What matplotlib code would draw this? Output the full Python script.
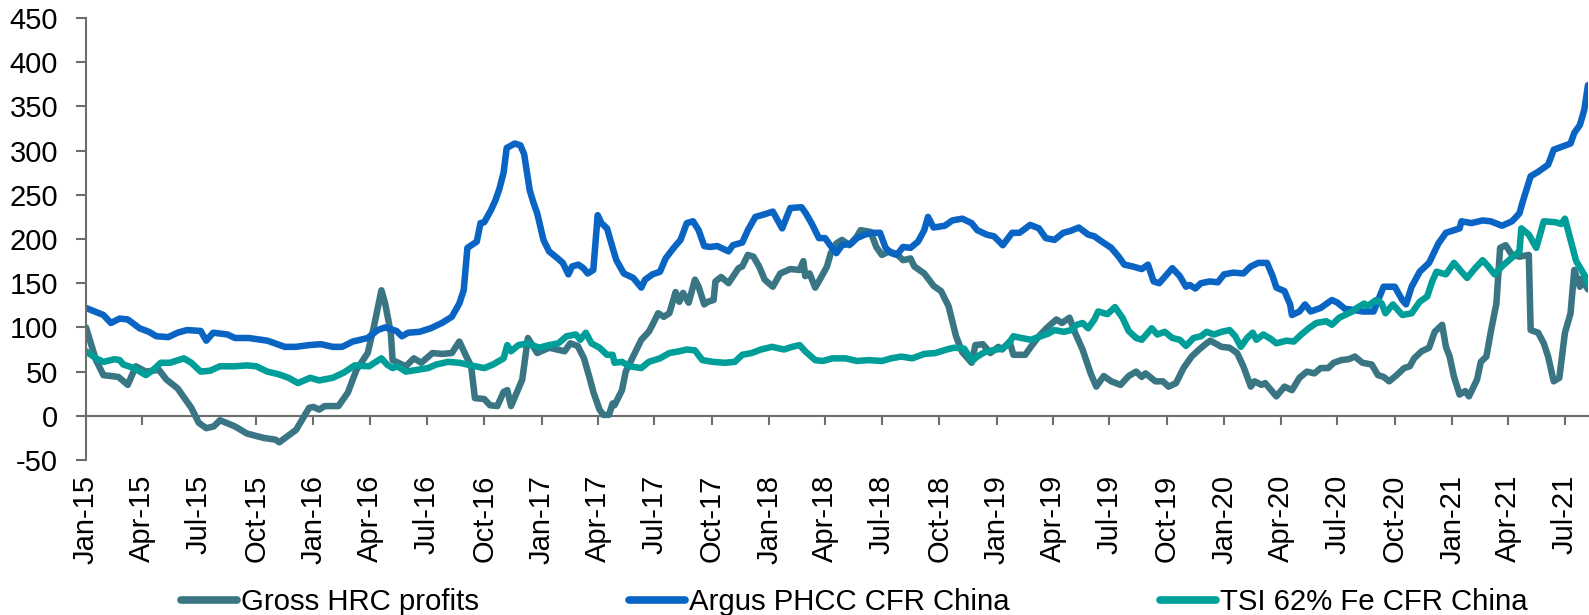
import matplotlib
matplotlib.use("Agg")
import matplotlib.pyplot as plt
import matplotlib.dates as mdates
import pandas as pd

plt.rcParams['font.family'] = ['Liberation Sans', 'DejaVu Sans']
plt.rcParams['axes.unicode_minus'] = False

# ---------------- data ----------------
hrc_dates = [
    "2015-01-01", "2015-01-17", "2015-01-29", "2015-02-22", "2015-03-09", "2015-03-22", "2015-04-07", "2015-04-28",
    "2015-05-10", "2015-05-28", "2015-06-19", "2015-07-01", "2015-07-13", "2015-07-25", "2015-08-04", "2015-08-28",
    "2015-09-16", "2015-10-13", "2015-11-01", "2015-11-07", "2015-12-04", "2015-12-25", "2016-01-01", "2016-01-10",
    "2016-01-19", "2016-02-10", "2016-02-25", "2016-03-10", "2016-03-28", "2016-04-07", "2016-04-19", "2016-04-25",
    "2016-05-04", "2016-05-07", "2016-05-16", "2016-05-28", "2016-06-10", "2016-06-22", "2016-07-10", "2016-07-25",
    "2016-08-10", "2016-08-22", "2016-09-01", "2016-09-10", "2016-09-16", "2016-10-01", "2016-10-10", "2016-10-22",
    "2016-11-01", "2016-11-07", "2016-11-13", "2016-12-01", "2016-12-10", "2016-12-25", "2017-01-13", "2017-02-07",
    "2017-02-16", "2017-02-28", "2017-03-10", "2017-03-19", "2017-03-25", "2017-04-04", "2017-04-10", "2017-04-19",
    "2017-04-25", "2017-04-28", "2017-05-10", "2017-05-16", "2017-05-25", "2017-06-10", "2017-06-22", "2017-06-28",
    "2017-07-07", "2017-07-16", "2017-07-25", "2017-08-04", "2017-08-10", "2017-08-16", "2017-08-25", "2017-09-04",
    "2017-09-10", "2017-09-19", "2017-09-25", "2017-10-04", "2017-10-07", "2017-10-16", "2017-10-28", "2017-11-13",
    "2017-11-19", "2017-11-28", "2017-12-07", "2017-12-16", "2017-12-25", "2018-01-07", "2018-01-19", "2018-02-04",
    "2018-02-19", "2018-02-25", "2018-02-28", "2018-03-07", "2018-03-16", "2018-03-25", "2018-04-04", "2018-04-10",
    "2018-04-19", "2018-04-28", "2018-05-10", "2018-05-22", "2018-05-28", "2018-06-13", "2018-06-22", "2018-07-01",
    "2018-07-13", "2018-07-25", "2018-08-04", "2018-08-16", "2018-08-22", "2018-09-07", "2018-09-22", "2018-10-04",
    "2018-10-16", "2018-10-28", "2018-11-07", "2018-11-22", "2018-11-28", "2018-12-10", "2018-12-22", "2019-01-04",
    "2019-01-10", "2019-01-22", "2019-01-28", "2019-02-16", "2019-02-25", "2019-03-10", "2019-03-22", "2019-04-07",
    "2019-04-16", "2019-04-28", "2019-05-07", "2019-05-19", "2019-06-01", "2019-06-10", "2019-06-22", "2019-07-04",
    "2019-07-19", "2019-08-01", "2019-08-13", "2019-08-22", "2019-08-28", "2019-09-13", "2019-09-25", "2019-10-04",
    "2019-10-16", "2019-10-28", "2019-11-10", "2019-11-22", "2019-12-04", "2019-12-10", "2019-12-28", "2020-01-10",
    "2020-01-22", "2020-02-01", "2020-02-13", "2020-02-19", "2020-03-01", "2020-03-07", "2020-03-25", "2020-04-07",
    "2020-04-19", "2020-05-01", "2020-05-13", "2020-05-25", "2020-06-04", "2020-06-16", "2020-06-25", "2020-07-07",
    "2020-07-19", "2020-07-29", "2020-08-10", "2020-08-25", "2020-09-04", "2020-09-13", "2020-09-22", "2020-10-04",
    "2020-10-16", "2020-10-25", "2020-11-01", "2020-11-13", "2020-11-25", "2020-12-04", "2020-12-16", "2020-12-22",
    "2020-12-28", "2021-01-04", "2021-01-13", "2021-01-22", "2021-01-28", "2021-02-10", "2021-02-16", "2021-02-25",
    "2021-03-04", "2021-03-13", "2021-03-19", "2021-03-28", "2021-04-07", "2021-04-19", "2021-05-04", "2021-05-07",
    "2021-05-19", "2021-05-28", "2021-06-04", "2021-06-13", "2021-06-22", "2021-07-01", "2021-07-10", "2021-07-16",
    "2021-07-25", "2021-07-28", "2021-08-07",
]
hrc_values = [
    100, 63, 46, 44, 35, 56, 50, 52,
    41, 31, 9, -8, -14, -12, -5, -12,
    -20, -25, -27, -30, -16, 9, 10, 7,
    11, 11, 26, 52, 71, 101, 142, 127,
    94, 63, 60, 56, 65, 60, 71, 70,
    71, 84, 69, 56, 20, 19, 12, 11,
    27, 29, 11, 41, 88, 71, 77, 73,
    82, 79, 65, 43, 27, 7, 1, 1,
    14, 12, 29, 50, 63, 86, 95, 103,
    116, 112, 116, 140, 129, 139, 128, 154,
    146, 126, 129, 131, 152, 157, 150, 167,
    169, 182, 180, 169, 154, 146, 161, 166,
    165, 175, 158, 161, 145, 156, 169, 184,
    195, 199, 193, 203, 210, 208, 191, 182,
    186, 183, 176, 178, 169, 161, 147, 141,
    124, 90, 72, 60, 80, 81, 71, 78,
    75, 84, 69, 69, 78, 90, 99, 109,
    105, 111, 94, 75, 48, 33, 45, 39,
    35, 45, 50, 44, 48, 39, 39, 33,
    37, 54, 67, 75, 82, 85, 78, 77,
    71, 56, 33, 39, 35, 37, 22, 33,
    29, 43, 50, 48, 54, 54, 60, 63,
    64, 67, 60, 58, 46, 44, 39, 46,
    54, 56, 65, 73, 77, 95, 103, 78,
    67, 44, 24, 28, 22, 41, 61, 67,
    95, 127, 190, 193, 182, 180, 182, 97,
    94, 82, 67, 39, 43, 94, 116, 165,
    146, 155, 143,
]

argus_dates = [
    "2015-01-01", "2015-01-29", "2015-02-10", "2015-02-24", "2015-03-09", "2015-03-28", "2015-04-12", "2015-04-24",
    "2015-05-13", "2015-05-28", "2015-06-12", "2015-07-04", "2015-07-13", "2015-07-24", "2015-08-16", "2015-08-28",
    "2015-09-19", "2015-10-19", "2015-11-16", "2015-12-04", "2015-12-25", "2016-01-13", "2016-02-01", "2016-02-16",
    "2016-03-04", "2016-03-28", "2016-04-13", "2016-04-25", "2016-05-13", "2016-05-22", "2016-06-01", "2016-06-19",
    "2016-07-07", "2016-07-25", "2016-08-10", "2016-08-22", "2016-08-29", "2016-09-04", "2016-09-19", "2016-09-25",
    "2016-10-01", "2016-10-12", "2016-10-19", "2016-10-25", "2016-11-01", "2016-11-06", "2016-11-19", "2016-11-28",
    "2016-12-04", "2016-12-13", "2016-12-19", "2016-12-25", "2017-01-04", "2017-01-13", "2017-01-27", "2017-02-04",
    "2017-02-13", "2017-02-19", "2017-03-01", "2017-03-09", "2017-03-16", "2017-03-25", "2017-04-01", "2017-04-07",
    "2017-04-16", "2017-04-25", "2017-05-01", "2017-05-13", "2017-05-28", "2017-06-10", "2017-06-16", "2017-06-28",
    "2017-07-10", "2017-07-19", "2017-08-01", "2017-08-12", "2017-08-22", "2017-09-01", "2017-09-10", "2017-09-19",
    "2017-09-28", "2017-10-10", "2017-10-28", "2017-11-04", "2017-11-19", "2017-11-28", "2017-12-10", "2017-12-25",
    "2018-01-07", "2018-01-22", "2018-02-04", "2018-02-22", "2018-03-01", "2018-03-10", "2018-03-22", "2018-04-01",
    "2018-04-09", "2018-04-19", "2018-04-28", "2018-05-13", "2018-05-22", "2018-06-04", "2018-06-16", "2018-06-28",
    "2018-07-07", "2018-07-16", "2018-07-25", "2018-08-04", "2018-08-16", "2018-08-28", "2018-09-07", "2018-09-13",
    "2018-09-22", "2018-10-10", "2018-10-22", "2018-11-07", "2018-11-22", "2018-12-01", "2018-12-16", "2018-12-28",
    "2019-01-11", "2019-01-26", "2019-02-07", "2019-02-24", "2019-03-10", "2019-03-21", "2019-04-04", "2019-04-18",
    "2019-04-29", "2019-05-13", "2019-05-28", "2019-06-07", "2019-06-19", "2019-07-04", "2019-07-16", "2019-07-25",
    "2019-08-07", "2019-08-22", "2019-09-01", "2019-09-10", "2019-09-19", "2019-10-10", "2019-10-22", "2019-11-01",
    "2019-11-07", "2019-11-16", "2019-11-25", "2019-12-09", "2019-12-22", "2020-01-01", "2020-01-16", "2020-02-01",
    "2020-02-13", "2020-02-25", "2020-03-10", "2020-03-19", "2020-03-25", "2020-04-07", "2020-04-16", "2020-04-19",
    "2020-05-01", "2020-05-10", "2020-05-19", "2020-06-04", "2020-06-22", "2020-07-01", "2020-07-13", "2020-07-25",
    "2020-08-10", "2020-08-28", "2020-09-13", "2020-10-01", "2020-10-13", "2020-10-19", "2020-10-28", "2020-11-10",
    "2020-11-25", "2020-12-10", "2020-12-22", "2021-01-13", "2021-01-16", "2021-02-01", "2021-02-19", "2021-03-04",
    "2021-03-22", "2021-04-07", "2021-04-19", "2021-04-25", "2021-05-07", "2021-05-19", "2021-06-04", "2021-06-13",
    "2021-07-10", "2021-07-16", "2021-07-25", "2021-08-01", "2021-08-07",
]
argus_values = [
    122, 114, 105, 110, 109, 99, 95, 90,
    89, 94, 97, 96, 85, 94, 92, 88,
    88, 85, 78, 78, 80, 81, 78, 78,
    84, 88, 97, 100, 96, 90, 94, 95,
    99, 105, 112, 127, 142, 190, 197, 218,
    219, 233, 244, 256, 275, 303, 308, 306,
    296, 255, 241, 229, 199, 186, 178, 173,
    160, 169, 171, 167, 161, 165, 227, 218,
    212, 190, 176, 161, 156, 145, 154, 160,
    163, 178, 190, 199, 218, 220, 210, 192,
    191, 192, 186, 193, 196, 210, 225, 228,
    231, 212, 235, 236, 229, 218, 201, 201,
    193, 184, 193, 195, 201, 205, 207, 207,
    190, 184, 182, 191, 190, 197, 210, 225,
    213, 215, 221, 223, 218, 210, 205, 203,
    193, 207, 207, 216, 212, 201, 199, 207,
    209, 213, 205, 203, 197, 190, 180, 171,
    169, 166, 171, 152, 150, 167, 158, 146,
    148, 144, 150, 152, 151, 160, 162, 161,
    169, 173, 173, 158, 145, 141, 126, 114,
    118, 126, 118, 122, 131, 128, 121, 120,
    118, 118, 146, 146, 131, 126, 146, 163,
    173, 195, 207, 212, 220, 218, 221, 220,
    215, 220, 229, 244, 271, 276, 284, 301,
    308, 320, 329, 346, 374,
]

tsi_dates = [
    "2015-01-01", "2015-01-17", "2015-01-29", "2015-02-16", "2015-02-24", "2015-03-02", "2015-03-19", "2015-04-07",
    "2015-04-19", "2015-05-01", "2015-05-16", "2015-06-07", "2015-06-19", "2015-07-04", "2015-07-19", "2015-08-04",
    "2015-08-28", "2015-09-16", "2015-10-01", "2015-10-19", "2015-11-06", "2015-11-22", "2015-12-07", "2015-12-27",
    "2016-01-10", "2016-02-01", "2016-02-19", "2016-03-07", "2016-03-30", "2016-04-10", "2016-04-19", "2016-04-28",
    "2016-05-07", "2016-05-15", "2016-05-28", "2016-06-16", "2016-07-03", "2016-07-16", "2016-08-04", "2016-08-22",
    "2016-09-10", "2016-10-01", "2016-10-15", "2016-11-01", "2016-11-07", "2016-11-13", "2016-11-25", "2016-12-10",
    "2016-12-28", "2017-01-13", "2017-01-28", "2017-02-10", "2017-02-25", "2017-03-04", "2017-03-13", "2017-03-22",
    "2017-04-04", "2017-04-16", "2017-04-25", "2017-04-28", "2017-05-10", "2017-05-22", "2017-06-10", "2017-06-22",
    "2017-07-10", "2017-07-25", "2017-08-10", "2017-08-22", "2017-09-04", "2017-09-16", "2017-10-03", "2017-10-22",
    "2017-11-07", "2017-11-19", "2017-12-04", "2017-12-19", "2018-01-06", "2018-01-25", "2018-02-07", "2018-02-19",
    "2018-02-28", "2018-03-16", "2018-03-28", "2018-04-13", "2018-05-04", "2018-05-22", "2018-06-10", "2018-07-01",
    "2018-07-16", "2018-08-01", "2018-08-19", "2018-09-07", "2018-09-25", "2018-10-13", "2018-10-25", "2018-11-10",
    "2018-11-23", "2018-12-01", "2018-12-13", "2019-01-01", "2019-01-10", "2019-01-21", "2019-01-28", "2019-02-10",
    "2019-02-25", "2019-03-13", "2019-03-25", "2019-04-04", "2019-04-19", "2019-05-01", "2019-05-10", "2019-05-19",
    "2019-05-28", "2019-06-07", "2019-06-13", "2019-06-28", "2019-07-10", "2019-07-22", "2019-08-01", "2019-08-13",
    "2019-08-22", "2019-09-07", "2019-09-16", "2019-09-28", "2019-10-10", "2019-10-22", "2019-11-01", "2019-11-13",
    "2019-11-25", "2019-12-04", "2019-12-16", "2019-12-28", "2020-01-10", "2020-01-19", "2020-01-28", "2020-02-07",
    "2020-02-16", "2020-02-22", "2020-03-04", "2020-03-16", "2020-03-25", "2020-04-10", "2020-04-22", "2020-05-04",
    "2020-05-16", "2020-05-28", "2020-06-13", "2020-06-22", "2020-07-04", "2020-07-13", "2020-07-25", "2020-08-01",
    "2020-08-13", "2020-08-18", "2020-09-01", "2020-09-10", "2020-09-16", "2020-09-28", "2020-10-13", "2020-10-28",
    "2020-11-10", "2020-11-22", "2020-11-30", "2020-12-07", "2020-12-22", "2021-01-04", "2021-01-16", "2021-01-25",
    "2021-02-07", "2021-02-19", "2021-02-28", "2021-03-10", "2021-03-22", "2021-04-07", "2021-04-19", "2021-04-22",
    "2021-05-04", "2021-05-16", "2021-05-28", "2021-06-16", "2021-06-25", "2021-07-01", "2021-07-10", "2021-07-19",
    "2021-08-04", "2021-08-07",
]
tsi_values = [
    73, 65, 61, 64, 63, 58, 54, 46,
    52, 60, 60, 65, 60, 50, 51, 56,
    56, 57, 56, 50, 47, 43, 37, 43,
    40, 43, 49, 57, 56, 61, 65, 58,
    54, 56, 50, 52, 54, 58, 61, 60,
    57, 54, 58, 65, 80, 73, 80, 82,
    77, 80, 82, 90, 92, 86, 94, 82,
    77, 69, 69, 60, 61, 56, 54, 61,
    65, 71, 73, 75, 74, 63, 61, 60,
    61, 69, 71, 75, 78, 75, 78, 80,
    73, 63, 62, 65, 65, 62, 63, 62,
    65, 67, 65, 70, 71, 75, 77, 76,
    62, 67, 72, 75, 76, 82, 90, 88,
    86, 90, 93, 97, 95, 97, 103, 105,
    99, 109, 118, 115, 123, 111, 96, 88,
    86, 99, 92, 95, 88, 86, 79, 88,
    90, 95, 92, 95, 97, 90, 78, 88,
    94, 86, 92, 87, 82, 85, 84, 92,
    99, 105, 107, 103, 111, 114, 118, 122,
    127, 124, 131, 127, 116, 126, 114, 116,
    129, 135, 152, 163, 160, 173, 163, 156,
    167, 176, 169, 160, 169, 179, 186, 212,
    205, 190, 220, 219, 217, 223, 199, 175,
    156, 149,
]

series_labels = ["Gross HRC profits", "Argus PHCC CFR China", "TSI 62% Fe CFR China"]
series_colors = ["#3A7584", "#0A64C4", "#009E99"]
y_ticks = [-50, 0, 50, 100, 150, 200, 250, 300, 350, 400, 450]

# ---------------- figure ----------------
W, H = 1589, 615
fig = plt.figure(figsize=(W / 100, H / 100), dpi=100)
ax = fig.add_axes([86 / W, 1 - 460 / H, (1588 - 86) / W, (460 - 18) / H])

lw = 4.7
series = [(hrc_dates, hrc_values), (argus_dates, argus_values), (tsi_dates, tsi_values)]
for (d, v), lab, col in zip(series, series_labels, series_colors):
    ax.plot(pd.to_datetime(d), v, color=col, lw=lw, label=lab,
            solid_joinstyle='round', solid_capstyle='round')

ax.set_xlim(pd.Timestamp("2015-01-01"), pd.Timestamp("2021-08-07"))
ax.set_ylim(-50, 450)
ax.set_yticks(y_ticks)

ax.xaxis.set_major_locator(mdates.MonthLocator(bymonth=[1, 4, 7, 10]))
ax.xaxis.set_major_formatter(mdates.DateFormatter("%b-%y"))

spine_col = "#6d6d6d"
for s in ["top", "right"]:
    ax.spines[s].set_visible(False)
ax.spines["left"].set_color(spine_col)
ax.spines["left"].set_linewidth(1.5)
ax.spines["bottom"].set_color(spine_col)
ax.spines["bottom"].set_linewidth(1.5)
ax.spines["bottom"].set_position(("data", 0))
ax.spines["bottom"].set_zorder(0.5)

ax.tick_params(axis="y", direction="out", length=7, width=1.5, color=spine_col,
               labelsize=21, pad=13, labelcolor="black")
ax.tick_params(axis="x", direction="out", length=6.5, width=1.5, color=spine_col,
               labelsize=21, pad=36, labelcolor="black", labelrotation=90)
for lbl in ax.get_xticklabels():
    lbl.set_va("top")
    lbl.set_ha("center")

leg = fig.legend(loc="center left", bbox_to_anchor=(181 / W, 1 - 602 / H),
                 ncol=3, frameon=False, fontsize=21.2, handlelength=1.9,
                 handletextpad=0.14, columnspacing=5.1, borderpad=0, borderaxespad=0)
for h in leg.get_lines():
    h.set_linewidth(5.5)
    h.set_solid_capstyle('round')

fig.savefig("out.png", dpi=100)
